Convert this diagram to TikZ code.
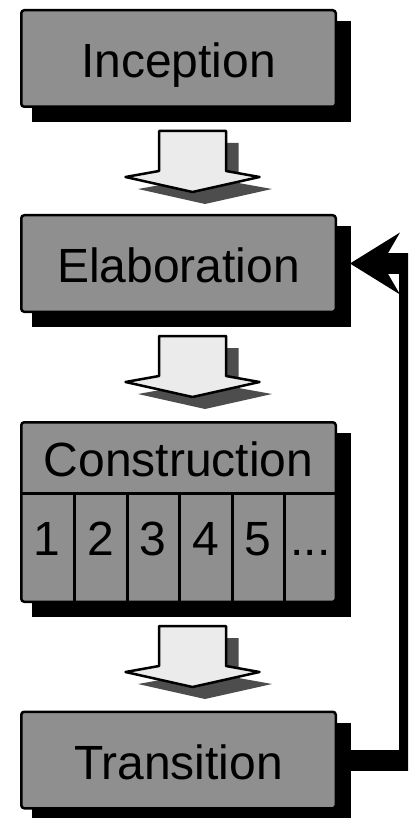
\documentclass[tikz,border=0pt]{standalone}
\usepackage{fontspec}
\setmainfont{Liberation Sans}
\usetikzlibrary{arrows.meta}
\pgfdeclarelayer{back}
\pgfsetlayers{back,main}

\definecolor{phasegray}{RGB}{143,143,143}
\definecolor{arrowfill}{RGB}{235,235,235}
\definecolor{arrowshade}{RGB}{77,77,77}

\tikzset{
  phasefont/.style={font=\fontsize{48}{56}\selectfont, text height=38pt, text depth=0pt},
  phase/.style={draw=black, line width=2.5pt, rounded corners=3pt, fill=phasegray,
    minimum width=314.5pt, minimum height=96.5pt, inner sep=0pt, phasefont},
  phaselabel/.style={inner sep=0pt, phasefont},
  divider/.style={line width=3pt},
  feedback/.style={line width=21pt, line join=miter,
    -{Stealth[length=50pt,width=62pt,inset=18pt,line width=0pt]}},
  % hollow block arrow pointing down, origin at the top centre of its shaft
  blockarrow/.pic={
    \fill[arrowshade, shift={(12.5,12)}]
      (-33.5,0) -- (-33.5,40) -- (-67,46) -- (0,61) -- (67,46) -- (33.5,40) -- (33.5,0) -- cycle;
    \draw[line width=2.5pt, line join=round, fill=arrowfill]
      (-33.5,0) -- (-33.5,40) -- (-67,46) -- (0,61) -- (67,46) -- (33.5,40) -- (33.5,0) -- cycle;
  }
}

\begin{document}
\begin{tikzpicture}[x=1pt,y=-1pt]
\useasboundingbox (0,0) rectangle (408,818);
\clip (0,0) rectangle (408,818);

% phases
\node[phase] (ince) at (178.5,58.5) {Inception};
\node[phase] (elab) at (178.5,263.5) {Elaboration};
\node[phase, minimum height=179.5pt, anchor=north west] (cons) at (20,421) {};
\node[phase] (trans) at (178.5,760) {Transition};

% construction iterations
\node[phaselabel] (conshead) at (178.5,457) {Construction};
\draw[divider] (cons.west |- 0,493) -- (cons.east |- 0,493);
\foreach \x in {74,127,179,232,284}
  \draw[divider] (\x,493) -- (\x,603);
\node[phaselabel] (cell1) at (47,536) {1};
\node[phaselabel] (cell2) at (100.5,536) {2};
\node[phaselabel] (cell3) at (153,536) {3};
\node[phaselabel] (cell4) at (205.5,536) {4};
\node[phaselabel] (cell5) at (258,536) {5};
\node[phaselabel] (cell6) at (310.5,536) {...};

% drop shadows behind the phase boxes
\begin{pgfonlayer}{back}
  \foreach \b in {ince,elab,cons,trans}
    \fill[black] ([shift={(12,12)}]\b.north west) rectangle ([shift={(14,14)}]\b.south east);
\end{pgfonlayer}

% flow between phases
\pic (a1) at ([xshift=14pt,yshift=-23pt]ince.south) {blockarrow};
\pic (a2) at ([xshift=14pt,yshift=-23pt]elab.south) {blockarrow};
\pic (a3) at ([xshift=14pt,yshift=-23pt]cons.south) {blockarrow};

% iteration back from transition to elaboration
\draw[feedback] (trans.east) -- ++(72.5,0) |- ([xshift=13pt]elab.east);
\end{tikzpicture}
\end{document}
